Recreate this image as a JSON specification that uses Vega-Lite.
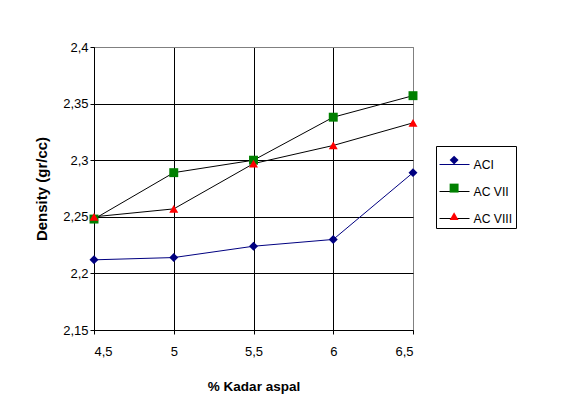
{
  "$schema": "https://vega.github.io/schema/vega-lite/v6.json",
  "width": 319,
  "height": 283,
  "autosize": "none",
  "padding": {"left": 94, "top": 47, "right": 161, "bottom": 89},
  "background": "white",
  "config": {
    "font": "Liberation Sans",
    "view": {"stroke": "#808080", "strokeWidth": 1},
    "axis": {
      "labelFont": "Liberation Sans",
      "labelFontSize": 13,
      "labelColor": "black",
      "titleFont": "Liberation Sans",
      "titleFontWeight": "bold",
      "titleColor": "black",
      "domainColor": "black",
      "tickColor": "black",
      "tickSize": 4,
      "gridWidth": 1,
      "gridOpacity": 1
    }
  },
  "data": {
    "values": [
      {"pct": 4.5, "density": 2.212, "series": "ACI"},
      {"pct": 5.0, "density": 2.214, "series": "ACI"},
      {"pct": 5.5, "density": 2.224, "series": "ACI"},
      {"pct": 6.0, "density": 2.230, "series": "ACI"},
      {"pct": 6.5, "density": 2.289, "series": "ACI"},
      {"pct": 4.5, "density": 2.248, "series": "AC VII"},
      {"pct": 5.0, "density": 2.289, "series": "AC VII"},
      {"pct": 5.5, "density": 2.300, "series": "AC VII"},
      {"pct": 6.0, "density": 2.338, "series": "AC VII"},
      {"pct": 6.5, "density": 2.357, "series": "AC VII"},
      {"pct": 4.5, "density": 2.250, "series": "AC VIII"},
      {"pct": 5.0, "density": 2.257, "series": "AC VIII"},
      {"pct": 5.5, "density": 2.297, "series": "AC VIII"},
      {"pct": 6.0, "density": 2.313, "series": "AC VIII"},
      {"pct": 6.5, "density": 2.333, "series": "AC VIII"}
    ]
  },
  "encoding": {
    "x": {
      "field": "pct",
      "type": "quantitative",
      "scale": {"domain": [4.5, 6.5], "nice": false, "zero": false},
      "axis": {
        "values": [4.5, 5, 5.5, 6, 6.5],
        "labelExpr": "replace(toString(datum.value), '.', ',')",
        "title": "% Kadar aspal",
        "titleFontSize": 13.5,
        "labelPadding": 11,
        "titlePadding": 21,
        "gridColor": {"condition": {"test": "datum.value == 6.5", "value": "#808080"}, "value": "black"}
      }
    },
    "y": {
      "field": "density",
      "type": "quantitative",
      "scale": {"domain": [2.15, 2.4], "nice": false, "zero": false},
      "axis": {
        "values": [2.15, 2.2, 2.25, 2.3, 2.35, 2.4],
        "labelExpr": "replace(toString(datum.value), '.', ',')",
        "title": "Density (gr/cc)",
        "titleFontSize": 15,
        "labelPadding": 2,
        "titlePadding": 13,
        "gridColor": {"condition": {"test": "datum.value == 2.4", "value": "#808080"}, "value": "black"}
      }
    }
  },
  "layer": [
    {
      "mark": {"type": "line", "strokeWidth": 1},
      "encoding": {
        "stroke": {
          "field": "series",
          "type": "nominal",
          "sort": ["ACI", "AC VII", "AC VIII"],
          "scale": {"range": ["#000080", "#000000", "#000000"]},
          "legend": {
            "title": null,
            "orient": "none",
            "legendX": 342,
            "legendY": 99,
            "symbolType": "stroke",
            "symbolSize": 900,
            "symbolStrokeWidth": 1,
            "labelFont": "Liberation Sans",
            "labelFontSize": 12.2,
            "labelColor": "black",
            "labelOffset": 3.5,
            "rowPadding": 5,
            "padding": 3,
            "strokeColor": "black",
            "fillColor": "white"
          }
        }
      }
    },
    {
      "mark": {"type": "point", "filled": true, "opacity": 1, "size": 80, "strokeWidth": 0},
      "encoding": {
        "fill": {
          "field": "series",
          "type": "nominal",
          "scale": {"domain": ["ACI", "AC VII", "AC VIII"], "range": ["#000080", "#008000", "#FF0000"]},
          "legend": {
            "title": null,
            "orient": "none",
            "legendX": 351,
            "legendY": 104,
            "symbolSize": 80,
            "symbolStrokeWidth": 0,
            "labelFont": "Liberation Sans",
            "labelFontSize": 12.2,
            "labelColor": "transparent",
            "labelOffset": 4,
            "rowPadding": 15,
            "padding": 3
          }
        },
        "shape": {
          "field": "series",
          "type": "nominal",
          "scale": {"domain": ["ACI", "AC VII", "AC VIII"], "range": ["diamond", "square", "triangle-up"]},
          "legend": {
            "title": null,
            "orient": "none",
            "legendX": 351,
            "legendY": 104,
            "symbolSize": 80,
            "symbolStrokeWidth": 0,
            "labelFont": "Liberation Sans",
            "labelFontSize": 12.2,
            "labelColor": "transparent",
            "labelOffset": 4,
            "rowPadding": 15,
            "padding": 3
          }
        }
      }
    }
  ]
}
